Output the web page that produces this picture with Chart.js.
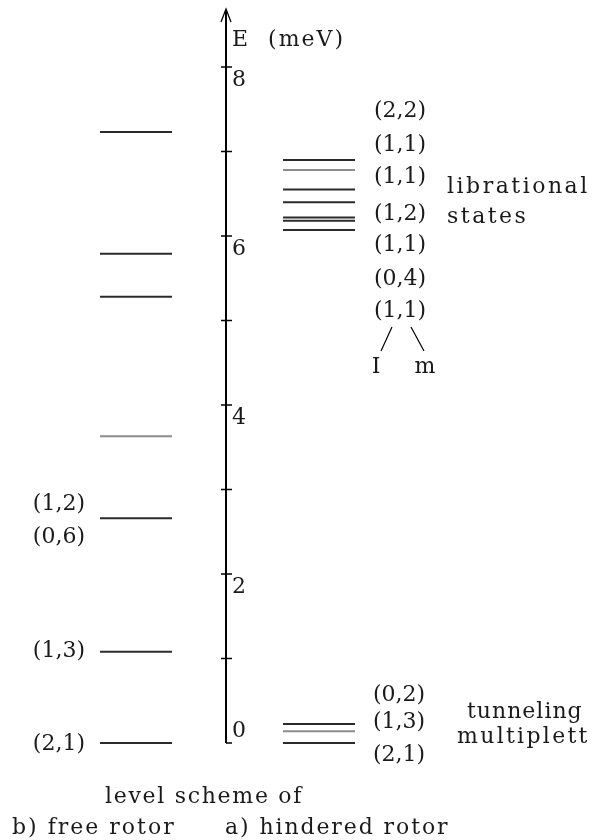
<!DOCTYPE html>
<html>
<head>
<meta charset="utf-8">
<script src="https://cdn.jsdelivr.net/npm/chart.js@4"></script>
<style>
  html, body { margin: 0; padding: 0; background: #fff; }
  #wrap { width: 596px; height: 840px; }
</style>
</head>
<body>
<div id="wrap"><canvas id="levels" width="596" height="840"></canvas></div>
<script>
// energies in meV
const freeRotorE = [7.23, 5.79, 5.28, 3.63, 2.66, 1.08, 0];
const hinderedE = [6.90, 6.78, 6.55, 6.40, 6.22, 6.18, 6.07];
const tunnelE = [0.225, 0.14, 0];
const axisTicks = [0, 1, 2, 3, 4, 5, 6, 7, 8];
const tickLabels = ['0', '', '2', '', '4', '', '6', '', '8'];

const freeLabels = ['(1,2)', '(0,6)', '(1,3)', '(2,1)'];
const librLabels = ['(2,2)', '(1,1)', '(1,1)', '(1,2)', '(1,1)', '(0,4)', '(1,1)'];
const tunnelLabels = ['(0,2)', '(1,3)', '(2,1)'];

// layout (x in page px, y in meV)
const cols = { free: [100, 172], hind: [283, 355], axis: 226 };
const freeLabelY = [2.82, 2.44, 1.08, -0.02];
const librLabelY = [7.48, 7.07, 6.69, 6.26, 5.89, 5.49, 5.11];
const tunnelLabelY = [0.57, 0.25, -0.14];
const grayLines = { free: [3], hind: [1], tunnel: [1] };

const dark = '#2b2b2b', gray = '#8c8c8c';
const font = '22px "DejaVu Serif"';

function levelSets(energies, span, grays) {
  return energies.map((e, i) => ({
    data: [{ x: span[0], y: e }, { x: span[1], y: e }],
    borderColor: grays.includes(i) ? gray : dark,
    borderWidth: 2,
    pointRadius: 0,
    showLine: true
  }));
}

const datasets = [
  ...levelSets(freeRotorE, cols.free, grayLines.free),
  ...levelSets(hinderedE, cols.hind, grayLines.hind),
  ...levelSets(tunnelE, cols.hind, grayLines.tunnel)
];

// words are set wider than the digits in the original
function word(ctx, t, x, py, sp) {
  ctx.letterSpacing = sp + 'px';
  ctx.fillText(t, x, py);
  ctx.letterSpacing = '0px';
}

const scheme = {
  id: 'scheme',
  afterDraw(chart) {
    const ctx = chart.ctx, y = chart.scales.y;
    const ax = cols.axis;
    ctx.save();
    ctx.strokeStyle = '#000';
    ctx.fillStyle = '#1a1a1a';
    ctx.lineWidth = 2;
    // axis with arrow
    ctx.beginPath();
    ctx.moveTo(ax, y.getPixelForValue(0));
    ctx.lineTo(ax, 10);
    ctx.stroke();
    ctx.lineWidth = 1.3;
    ctx.beginPath();
    ctx.moveTo(ax - 5, 22); ctx.lineTo(ax, 9); ctx.lineTo(ax + 5, 22);
    ctx.stroke();
    // ticks
    ctx.lineWidth = 1.5;
    axisTicks.forEach(v => {
      const py = y.getPixelForValue(v);
      ctx.beginPath();
      ctx.moveTo(v === 0 ? ax : ax - 5, py);
      ctx.lineTo(ax + 6, py);
      ctx.stroke();
    });
    ctx.font = font;
    ctx.textBaseline = 'middle';
    ctx.textAlign = 'left';
    tickLabels.forEach((t, i) => {
      if (!t) return;
      const py = y.getPixelForValue(axisTicks[i]);
      ctx.fillText(t, ax + 6, axisTicks[i] === 0 ? py - 12 : py + 13);
    });
    word(ctx, 'E  (meV)', ax + 6, 40, 2);

    // free rotor labels
    ctx.textAlign = 'right';
    freeLabels.forEach((t, i) => ctx.fillText(t, 85, y.getPixelForValue(freeLabelY[i])));

    // hindered rotor labels
    ctx.textAlign = 'left';
    librLabels.forEach((t, i) => ctx.fillText(t, 374, y.getPixelForValue(librLabelY[i])));
    tunnelLabels.forEach((t, i) => ctx.fillText(t, 373, y.getPixelForValue(tunnelLabelY[i])));
    word(ctx, 'librational', 447, 187, 2.5);
    word(ctx, 'states', 447, 217, 2.5);
    word(ctx, 'tunneling', 467, 712, 1);
    word(ctx, 'multiplett', 457, 737, 2.3);

    // l / m split
    ctx.lineWidth = 1.2;
    ctx.beginPath();
    ctx.moveTo(392, 327); ctx.lineTo(381, 351);
    ctx.moveTo(411, 327); ctx.lineTo(424, 351);
    ctx.stroke();
    ctx.textAlign = 'center';
    ctx.fillText('I', 376, 367);
    ctx.fillText('m', 425, 367);

    // captions
    ctx.textAlign = 'left';
    word(ctx, 'level scheme of', 105, 797, 1.7);
    word(ctx, 'b) free rotor', 12, 828, 2);
    word(ctx, 'a) hindered rotor', 225, 828, 1.9);
    ctx.restore();
  }
};

new Chart(document.getElementById('levels'), {
  type: 'scatter',
  data: { datasets },
  options: {
    responsive: false,
    animation: false,
    layout: { padding: 0 },
    plugins: { legend: { display: false }, tooltip: { enabled: false } },
    scales: {
      x: { type: 'linear', min: 0, max: 596, display: false },
      y: { type: 'linear', min: -1.148, max: 8.793, display: false }
    }
  },
  plugins: [scheme]
});
</script>
</body>
</html>
